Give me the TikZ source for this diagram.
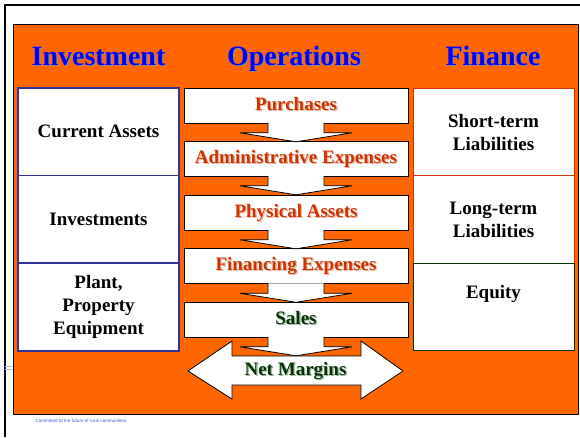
\documentclass[tikz,border=0pt]{standalone}
\usepackage{fontspec}
\setmainfont{Liberation Serif}
\newfontfamily\footfont{Liberation Sans}
\definecolor{slideorange}{HTML}{FF6600}
\definecolor{headblue}{HTML}{0000FF}
\definecolor{opred}{HTML}{CC3300}
\definecolor{opgreen}{HTML}{003300}
\definecolor{leftblue}{HTML}{333399}
\definecolor{footblue}{HTML}{3366CC}
\newcommand\shadowed[2]{\rlap{\kern1.3pt\raisebox{-1.3pt}[0pt][0pt]{\color{#1}#2}}#2}
\tikzset{
	head/.style={font=\fontsize{28}{30}\selectfont\bfseries,text=headblue,anchor=base},
	lbox/.style={draw=leftblue,line width=1.5pt,fill=white,minimum width=161pt,minimum height=87.5pt,align=center,font=\fontsize{19}{23}\selectfont\bfseries},
	rbox/.style={draw=opred,line width=.8pt,fill=white,minimum width=161pt,minimum height=87.5pt,align=center,font=\fontsize{19}{23}\selectfont\bfseries},
	cbox/.style={draw,line width=.8pt,fill=white,minimum width=224pt,minimum height=35pt,text height=13pt,text depth=4pt,font=\fontsize{19}{21}\selectfont\bfseries},
	downarr/.style={fill=white,draw,line width=.8pt},
}
\begin{document}
\begin{tikzpicture}[x=1pt,y=-1pt]
	\useasboundingbox(0,0)rectangle(580,437);
	% slide frame
	\draw[line width=2pt](5,437)--(5,5)--(580,5);
	\draw[footblue!35,line width=.8pt](5,366.5)--(13,366.5)(5,369.5)--(13,369.5);
	\filldraw[fill=slideorange,draw=black,line width=.8pt](13,24)rectangle(578,414);
	\node[font=\footfont\fontsize{4.6}{5}\selectfont,text=footblue,anchor=west](foot)at(32,421){Committed to the future of rural communities.};
	% headings
	\node[head](inv)at(98.5,65){\shadowed{black!45}{Investment}};
	\node[head](ops)at(294,65){\shadowed{black!45}{Operations}};
	\node[head](fin)at(493,65){\shadowed{black!45}{Finance}};
	% investment side
	\node[lbox](ca)at(98.5,131.5){Current Assets};
	\node[lbox](iv)at(98.5,219){Investments};
	\node[lbox](pp)at(98.5,307){Plant,\\Property\\Equipment};
	% finance side
	\node[rbox](st)at(493.5,132){Short-term\\Liabilities};
	\node[rbox](lt)at(493.5,219.5){Long-term\\Liabilities};
	\node[rbox,draw=opgreen](eq)at(493.5,307){};
	\node[font=\fontsize{19}{23}\selectfont\bfseries](eqt)at(493.5,294){Equity};
	% operations
	\node[cbox,text=opred](pu)at(296,105.5){\shadowed{opred!35}{Purchases}};
	\node[cbox,text=opred](ad)at(296,158.5){\shadowed{opred!35}{Administrative Expenses}};
	\node[cbox,text=opred](ph)at(296,212.5){\shadowed{opred!35}{Physical Assets}};
	\node[cbox,text=opred](fi)at(296,266){\shadowed{opred!35}{Financing Expenses}};
	\node[cbox,text=opgreen](sa)at(296,319.5){\shadowed{opgreen!35}{Sales}};
	\draw[downarr](188,371)--(232,341)--(232,356)--(361,356)--(361,341)--(403,371)--(361,399)--(361,385)--(232,385)--(232,399)--cycle;
	\node[font=\fontsize{19}{21}\selectfont\bfseries,text=opgreen,text height=13pt,text depth=4pt](nm)at(295.5,371){\shadowed{opgreen!35}{Net Margins}};
	\foreach \a in{pu,ad,ph,fi,sa}{
		\draw[downarr]([yshift=.6pt]\a.south)++(-28,0)--++(0,10)--++(-28,0)--++(56,9)--++(56,-9)--++(-28,0)--++(0,-10);
	}
\end{tikzpicture}
\end{document}
